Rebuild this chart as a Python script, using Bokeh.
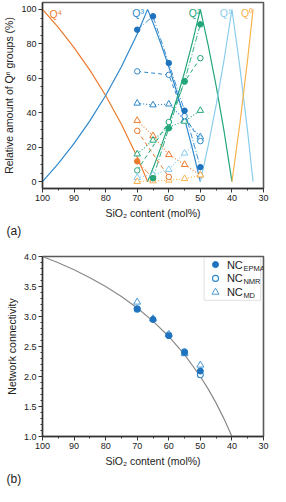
from bokeh.plotting import figure
from bokeh.layouts import column
from bokeh.models import Range1d, FixedTicker, PrintfTickFormatter, Title, BoxAnnotation
from bokeh.embed import file_html
from bokeh.resources import INLINE
from bokeh.core.properties import value

FONT = "Liberation Sans"

# ---------------- data: panel (a) ----------------
sio2 = [70, 65, 60, 55, 50]
sio2_q4_epma = [70, 65]
sio2_q2_epma = [65, 60, 55, 50]
sio2_q4_nmr = [70, 60]
sio2_nmr = [70, 60, 55, 50]

q4_epma = [11.8, 2.0]
q3_epma = [88.2, 96.0, 68.8, 41.2, 8.4]
q2_epma = [2.0, 31.0, 58.4, 91.3]

q4_nmr = [29.5, 2.7]
q3_nmr = [64.0, 62.0, 38.0, 23.5]
q2_nmr = [6.5, 34.6, 58.0, 71.7]

q4_md = [35.5, 26.6, 15.6, 9.9, 3.8]
q3_md = [45.5, 44.5, 45.0, 36.0, 26.0]
q2_md = [16.0, 24.0, 31.8, 35.0, 41.3]
q1_md = [2.3, 4.0, 7.0, 16.5, 25.0]
q0_md = [0.0, 0.4, 0.8, 1.7, 3.8]

# model (binary distribution) curves
model_x_a = [100, 95, 90, 85, 80, 75, 70, 66.7]
q4_model = [100, 89.5, 77.8, 64.7, 50.0, 33.3, 14.3, 0]
q3_model_up = [0, 10.5, 22.2, 35.3, 50.0, 66.7, 85.7, 100]
model_x_b = [66.7, 65, 62.5, 60, 57.5, 55, 52.5, 50]
q3_model_down = [100, 92.3, 80.0, 66.7, 52.2, 36.4, 19.0, 0]
q2_model_up = [0, 7.7, 20.0, 33.3, 47.8, 63.6, 81.0, 100]
model_x_c = [50, 47.5, 45, 42.5, 40]
q2_model_down = [100, 78.9, 55.6, 29.4, 0]
q1_model_up = [0, 21.1, 44.4, 70.6, 100]
model_x_d = [40, 37.5, 35, 33.3]
q1_model_down = [100, 66.7, 28.6, 0]
q0_model_up = [0, 33.3, 71.4, 100]

q_labels = ["Q\u2074", "Q\u00b3", "Q\u00b2", "Q\u00b9", "Q\u2070"]
q_label_x = [95.8, 69.7, 51.8, 42.0, 35.2]
q_label_y = [97.5, 98.0, 98.0, 98.0, 98.0]

# ---------------- data: panel (b) ----------------
nc_x = [100, 95, 90, 85, 80, 75, 70, 65, 60, 55, 50, 47.5, 45, 42.5, 40]
nc_model = [4.0, 3.895, 3.778, 3.647, 3.5, 3.333, 3.143, 2.923, 2.667, 2.364, 2.0, 1.789, 1.556, 1.294, 1.0]
nc_epma = [3.13, 2.95, 2.68, 2.40, 2.09]
nc_nmr = [3.12, 2.69, 2.41, 2.03]
nc_md = [3.24, 2.96, 2.70, 2.38, 2.19]

legend_labels = ["NC", "NC", "NC"]
legend_subs = ["EPMA", "NMR", "MD"]

C4 = "#EC7A2C"
C3 = "#2F88CC"
C2 = "#22A67A"
C1 = "#8ACDEC"
C0 = "#F6B34E"
CB = "#1F73BE"

x_major = [100, 90, 80, 70, 60, 50, 40, 30]
x_minor = [95, 85, 75, 65, 55, 45, 35]


def style(p):
    p.outline_line_color = "#5a5a5a"
    p.outline_line_width = 1.6
    p.xgrid.visible = False
    p.ygrid.visible = False
    for ax in (p.xaxis[0], p.yaxis[0]):
        ax.axis_line_color = "#333333"
        ax.axis_line_width = 1.3
        ax.major_tick_line_color = "#333333"
        ax.minor_tick_line_color = "#333333"
        ax.major_tick_out = 4
        ax.major_tick_in = 0
        ax.minor_tick_out = 2
        ax.minor_tick_in = 0
        ax.major_label_text_font = FONT
        ax.major_label_text_font_size = "9px"
        ax.major_label_text_color = "#222222"
        ax.major_label_standoff = 2
        ax.axis_label_text_font = FONT
        ax.axis_label_text_font_style = "normal"
        ax.axis_label_text_font_size = "10.5px"
        ax.axis_label_text_color = "#222222"
        ax.axis_label_standoff = 3
    p.xaxis[0].ticker = FixedTicker(ticks=x_major, minor_ticks=x_minor)
    p.xaxis[0].axis_label = "SiO\u2082 content (mol%)"


# ---------------- panel (a) ----------------
p1 = figure(width=270, height=238, output_backend="svg", toolbar_location=None,
            x_range=Range1d(100, 30), y_range=Range1d(-4, 104),
            min_border_left=36, min_border_right=7, min_border_top=2, min_border_bottom=50)
style(p1)
p1.yaxis[0].ticker = FixedTicker(ticks=[0, 20, 40, 60, 80, 100],
                                 minor_ticks=[5, 10, 15, 25, 30, 35, 45, 50, 55, 65, 70, 75, 85, 90, 95])
p1.yaxis[0].axis_label = "Relative amount of Q\u207f groups (%)"

lw = 1.2
p1.line(model_x_a, q4_model, color=C4, line_width=lw)
p1.line(model_x_a + model_x_b[1:], q3_model_up + q3_model_down[1:], color=C3, line_width=lw)
p1.line(model_x_b + model_x_c[1:], q2_model_up + q2_model_down[1:], color=C2, line_width=lw)
p1.line(model_x_c + model_x_d[1:], q1_model_up + q1_model_down[1:], color=C1, line_width=lw)
p1.line(model_x_d, q0_model_up, color=C0, line_width=lw)

# data connecting lines
dd = "6 2 1 2"
p1.line(sio2_q4_epma, q4_epma, color=C4, line_width=0.9, line_dash=dd)
p1.line(sio2, q3_epma, color=C3, line_width=0.9, line_dash=dd)
p1.line(sio2_q2_epma, q2_epma, color=C2, line_width=0.9, line_dash=dd)

ds = "4 3"
p1.line(sio2_q4_nmr, q4_nmr, color=C4, line_width=1, line_dash=ds)
p1.line(sio2_nmr, q3_nmr, color=C3, line_width=1, line_dash=ds)
p1.line(sio2_nmr, q2_nmr, color=C2, line_width=1, line_dash=ds)

dt = "1 2"
for yv, c in ((q4_md, C4), (q3_md, C3), (q2_md, C2), (q1_md, C1), (q0_md, C0)):
    p1.line(sio2, yv, color=c, line_width=1.1, line_dash=dt)

# markers
for yv, c in ((q4_md, C4), (q3_md, C3), (q2_md, C2), (q1_md, C1), (q0_md, C0)):
    p1.scatter(sio2, yv, marker="triangle", size=6.5, line_color=c, fill_color="white", line_width=1)
p1.scatter(sio2_q4_nmr, q4_nmr, marker="circle", size=5.5, line_color=C4, fill_color="white", line_width=1)
p1.scatter(sio2_nmr, q3_nmr, marker="circle", size=5.5, line_color=C3, fill_color="white", line_width=1)
p1.scatter(sio2_nmr, q2_nmr, marker="circle", size=5.5, line_color=C2, fill_color="white", line_width=1)
p1.scatter(sio2_q4_epma, q4_epma, marker="circle", size=5.5, color=C4)
p1.scatter(sio2, q3_epma, marker="circle", size=5.5, color=CB)
p1.scatter(sio2_q2_epma, q2_epma, marker="circle", size=5.5, color=C2)

p1.text(q_label_x, q_label_y, text=q_labels, text_color=[C4, C3, C2, C1, C0],
        text_font=value(FONT), text_font_size="10.5px", text_align="center", text_baseline="middle")

t1 = Title(text="(a)", align="left", text_font=FONT, text_font_size="12px",
           text_font_style="normal", text_color="#222222", offset=-36, standoff=0)
p1.add_layout(t1, "below")

# ---------------- panel (b) ----------------
p2 = figure(width=270, height=248, output_backend="svg", toolbar_location=None,
            x_range=Range1d(100, 30), y_range=Range1d(1, 4),
            min_border_left=36, min_border_right=7, min_border_top=18, min_border_bottom=50)
style(p2)
p2.yaxis[0].ticker = FixedTicker(ticks=[1.0, 1.5, 2.0, 2.5, 3.0, 3.5, 4.0],
                                 minor_ticks=[1.1, 1.2, 1.3, 1.4, 1.6, 1.7, 1.8, 1.9, 2.1, 2.2, 2.3, 2.4,
                                              2.6, 2.7, 2.8, 2.9, 3.1, 3.2, 3.3, 3.4, 3.6, 3.7, 3.8, 3.9])
p2.yaxis[0].formatter = PrintfTickFormatter(format="%.1f")
p2.yaxis[0].axis_label = "Network connectivity"

# legend frame (under the glyphs)
p2.add_layout(BoxAnnotation(left=48.8, right=30.9, top=3.985, bottom=3.27, level="underlay",
                            fill_color="white", fill_alpha=1, line_color="#9a9a9a", line_width=1))

p2.line(nc_x, nc_model, color="#8a8a8a", line_width=1.2)
p2.scatter(sio2_nmr, nc_nmr, marker="circle", size=6, line_color=C3, fill_color="white", line_width=1.1)
p2.scatter(sio2, nc_md, marker="triangle", size=7, line_color="#4A9AD6", fill_color="white", line_width=1)
p2.scatter(sio2, nc_epma, marker="circle", size=6, color=CB)

leg_x = [45.2, 45.2, 45.2]
leg_y = [3.865, 3.635, 3.405]
p2.scatter(leg_x[0:1], leg_y[0:1], marker="circle", size=6, color=CB)
p2.scatter(leg_x[1:2], leg_y[1:2], marker="circle", size=6, line_color=C3, fill_color="white", line_width=1.1)
p2.scatter(leg_x[2:3], leg_y[2:3], marker="triangle", size=7, line_color="#4A9AD6", fill_color="white", line_width=1)
text_x = [41.6, 41.6, 41.6]
p2.text(text_x, leg_y, text=legend_labels, text_font=value(FONT), text_font_size="11px",
        text_color="#222222", text_baseline="middle", text_align="left")
p2.text(text_x, leg_y, text=legend_subs, text_font=value(FONT), text_font_size="7.5px",
        text_color="#222222", text_baseline="middle", text_align="left", x_offset=16.5, y_offset=3.5)

t2 = Title(text="(b)", align="left", text_font=FONT, text_font_size="12px",
           text_font_style="normal", text_color="#222222", offset=-36, standoff=0)
p2.add_layout(t2, "below")

layout = column(p1, p2, spacing=0)
open("out.html", "w").write(file_html(layout, INLINE))
